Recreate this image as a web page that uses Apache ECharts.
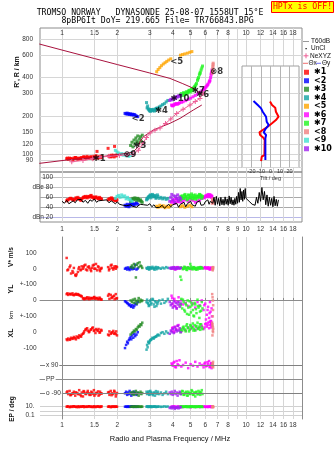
<!DOCTYPE html>
<html><head><meta charset="utf-8">
<script src="https://cdn.jsdelivr.net/npm/echarts@6/dist/echarts.min.js"></script>
<style>html,body{margin:0;padding:0;background:#fff}#c{width:335px;height:451px}</style>
</head><body><div id="c"></div>
<script>
// ---------- axis ticks ----------
const FREQ_TICKS = [1,1.5,2,3,4,5,6,7,8,9,10,12,14,16,18];
const FREQ_LABELS = [1,1.5,2,3,4,5,6,7,8,10,12,14,16,18];
const FREQ_LABELS_DBE = [1,1.5,2,3,4,5,6,7,8,9,10,12,14,16,18];
const HEIGHT_TICKS = [80,90,100,120,150,200,300,400,600,800];
const DBE_TICKS = [20,40,60,80,100];
const DBE_LABELS = ['dBn 20','40','60','dBe 80','100'];
const VXY_TICKS = [-300,-200,-100,0,100,200,300];
const VXY_LABELS = ['-100','0','+-100','0','+-100','0','100'];
const PP_TICKS = [-90,0,90];
const PP_LABELS = ['o -90','PP','x 90'];
const EP_TICKS = [0.1,1,10];
const EP_LABELS = ['0.1','','10.'];
const TILT_TICKS = [-20,-10,0,10,20];

// ---------- profile lines (MHz, km) ----------
const TOPF = [0.753,1.0,1.5,2.0,3.0,3.86,4.5,5.15,5.84];
const TOPH = [731,656,563,505,434,394,360,331,292];
const LOWF = [0.753,1.06,1.48,1.90,2.25,2.44,2.60,2.65,2.77,3.13,3.86,4.38,5.17,5.75];
const LOWH = [85.5,90.8,94.6,99.2,102.3,105.2,115.3,126,138,155.6,175.6,192,223,244];
const NEF = [1.13,1.30,1.47,1.61,1.80,2.05,2.25,2.43,2.60,2.75,2.88,3.01,3.20,3.41,3.65,3.90,4.20,4.55,4.96,5.30,5.62,5.86];
const NEH = [88,90,93,95.8,97,98.5,99.5,100.6,108,123,136,147.6,155,161.4,175,190,210,226,244,260,275,301];

// ---------- noise (dB) ----------
const NF = [1.00,1.03,1.06,1.09,1.12,1.15,1.18,1.21,1.24,1.27,1.30,1.34,1.38,1.42,1.46,1.50,1.54,1.58,1.62,1.66,1.70,1.75,1.80,1.85,1.90,1.95,2.00,
 2.05,2.10,2.15,2.20,2.25,2.30,2.36,2.42,2.48,2.54,2.60,2.66,2.72,2.78,2.85,2.92,3.00,3.08,3.16,3.24,3.32,3.40,3.50,3.60,3.70,3.80,3.90,4.00,
 4.10,4.20,4.30,4.40,4.50,4.60,4.70,4.80,4.90,5.00,5.10,5.20,5.30,5.40,5.50,5.60,5.70,5.80,5.90,6.00,6.10,6.20,6.30,6.40,6.50,
 6.60,6.70,6.80,6.90,7.00,7.10,7.20,7.30,7.40,7.50,7.60,7.70,7.80,7.90,8.00,8.10,8.20,8.30,8.40,8.50,8.60,8.70,8.80,8.90,9.00,9.10,9.20,9.30,9.40,9.50,9.60,9.70,9.80,9.90,10.0,
 10.2,10.4,10.6,10.8,11.0,11.2,11.4,11.6,11.8,12.0,12.2,12.4,12.6,12.8,13.0,13.2,13.4,13.6,13.8,14.0,14.2,14.4,14.6,14.8,15.0];
const NDB = [52,48,54,47,50,53,49,55,51,56,50,54,48,55,52,57,50,53,49,54,51,55,49,53,50,47,51,
 46,50,44,48,43,41,45,42,44,40,43,46,42,45,48,44,47,41,45,39,43,40,44,38,42,46,41,45,
 42,48,40,46,44,50,41,47,43,52,45,49,42,50,46,53,44,48,45,51,47,55,46,52,48,
 48,60,44,62,46,58,43,60,45,56,44,61,46,57,44,63,47,60,45,55,44,58,46,62,48,70,50,78,55,72,52,75,56,78,58,
 62,52,50,46,48,44,60,48,70,52,80,55,72,45,65,42,60,44,58,41,62,43,56,42,55];

// ---------- echo groups ----------
const F1 = [1.06,1.08,1.10,1.12,1.14,1.16,1.18,1.20,1.22,1.24,1.26,1.28,1.30,1.32,1.35,1.38,1.40,1.43,1.46,1.49,1.52,1.55,1.58,1.61,1.64,1.78,1.81,1.84,1.87,1.90,1.93,1.96,1.99,
 1.07,1.11,1.15,1.19,1.23,1.27,1.31,1.34,1.37,1.41,1.44,1.47,1.50,1.53,1.57,1.60,1.63,1.80,1.86,1.92,1.97];
const H1 = [93,92,94,93,92,94,95,93,92,94,93,95,94,96,93,95,94,96,95,97,94,106,96,95,97,112,98,96,97,99,116,98,100,
 94,93,92,95,93,94,96,95,97,94,96,93,95,98,94,96,95,97,99,96,98];
const DB1 = [53,55,57,58,56,54,56,58,60,57,55,57,59,61,60,62,61,63,60,58,60,59,57,58,56,55,57,58,56,55,54,53,55,
 55,58,56,59,57,54,60,62,59,61,64,61,59,61,58,60,57,56,59,57,54];
const VS1 = [68,-5,10,-30,-15,5,-40,-35,-20,10,-10,15,0,20,-5,10,15,-5,5,25,0,-10,10,-15,5,10,0,20,5,-5,15,0,10,
 -10,20,-25,-45,0,-5,10,25,-10,5,-15,20,0,30,15,-5,0,-10,25,5,15];
const YL1 = [40,35,42,38,45,33,38,36,40,34,30,25,12,8,15,10,18,12,14,20,10,16,8,12,6,30,10,35,20,25,8,40,15,
 45,40,36,42,35,28,15,10,20,8,16,12,22,14,10,18,6,40,15,30,12];
const XL1 = [-45,-40,-48,-35,-42,-30,-38,-27,-32,-20,-25,-15,-10,5,20,10,0,15,25,8,-5,12,20,0,10,-15,5,-10,0,8,-5,-12,-20,
 -50,-44,-38,-45,-36,-28,-5,15,25,5,18,30,12,20,8,-3,15,-20,-5,-10,5];
const PP1 = [-85,-95,-75,-100,-90,-80,-105,-88,-92,-70,-98,-85,-110,-80,-95,-75,-90,-100,-85,-70,-95,-88,-105,-80,-92,-85,-100,-75,-90,-95,-80,-110,-88,
 -78,-102,-92,-84,-96,-108,-76,-92,-86,-100,-80,-94,-105,-88,-78,-98,-90,-82,-102,-74,-96];
const EP1 = [10,12,8,11,9,13,10,8,12,11,9,10,12,8,10,11,13,9,10,12,8,11,10,9,12,10,11,8,12,10,9,11,10,
 11,9,12,10,8,11,13,10,9,12,10,8,11,10,12,9,10,11,9,12,10];

const F2 = [2.20,2.23,2.26,2.28,2.31,2.33,2.36,2.38,2.41,2.44,2.47,2.50,2.54,2.58];
const H2 = [210,208,211,207,209,206,208,205,207,204,206,203,200,198];
const DB2 = [44,42,46,43,41,45,47,44,48,46,45,47,49,46];
const VS2 = [0,5,-5,8,0,-8,3,10,-3,5,0,25,-5,2];
const YL2 = [-5,-10,-15,-20,-30,-25,-35,-40,-30,-45,-35,-20,-25,-10];
const XL2 = [-100,-80,-60,-70,-50,-40,-30,-45,-20,-35,-10,-25,-15,0];
const PP2 = [-90,-80,-100,-85,-95,-75,-90,-105,-85,-95,-80,-90,-100,-88];
const EP2 = [10,11,9,12,10,9,11,10,12,10,9,11,10,9];

const F3 = [2.36,2.40,2.43,2.46,2.49,2.52,2.55,2.58,2.61,2.64,2.67,2.70,2.73];
const H3 = [118,125,115,130,122,135,128,140,124,132,138,127,142];
const DB3 = [52,56,58,55,59,57,54,58,56,53,55,52,50];
const VS3 = [10,20,5,30,15,-55,25,35,10,40,20,15,5];
const YL3 = [0,-10,5,-15,10,-5,-20,0,15,-10,5,-5,0];
const XL3 = [-15,-5,0,10,5,20,15,30,40,35,50,45,60];
const PP3 = [-85,-95,-80,-100,-90,-75,-95,-85,-105,-90,-80,-95,-88];
const EP3 = [10,11,9,12,10,9,11,10,12,10,9,11,10];

const F4 = [2.88,2.90,2.94,2.98,3.02,3.06,3.10,3.15,3.20,3.26,3.32,3.38,3.45,3.52,3.60,3.68,3.76,
 2.92,2.96,3.00,3.04,3.12,3.18,3.24,3.30];
const H4 = [255,232,228,222,218,225,220,226,223,230,228,236,240,246,250,258,265,
 240,226,220,224,222,219,228,231];
const DB4 = [55,58,60,62,65,63,66,61,64,60,62,58,60,57,59,56,58,
 57,61,63,59,64,62,58,65];
const VS4 = [5,0,10,-5,8,3,12,0,6,-3,9,4,0,7,2,10,5,
 3,-2,7,1,5,-6,11,2];
const YL4 = [-10,5,-20,-30,0,-15,10,-25,-5,-35,-10,0,-20,5,-15,-5,10,
 -15,-35,-5,-25,5,-40,-12,-22];
const XL4 = [-110,-80,-60,-65,-50,-45,-35,-40,-30,-25,-15,-20,-5,0,-10,5,-5,
 -95,-70,-55,-48,-38,-32,-28,-20];
const PP4 = [-80,-95,-85,-100,-75,-90,-95,-85,-105,-90,-80,-95,-85,-100,-90,-80,-95,
 -90,-78,-96,-84,-102,-88,-76,-94];
const EP4 = [10,12,9,11,10,8,11,10,12,9,10,11,9,10,12,10,11,
 11,9,10,12,10,11,9,10];

const F5 = [3.27,3.33,3.40,3.47,3.55,3.63,3.71,3.80,3.90,4.40,4.52,4.65,4.80,4.95,5.08];
const H5 = [444,462,478,495,510,522,535,548,560,598,605,612,620,630,638];
const DB5 = [42,40,44,41,43,39,42,40,44,41,43,40,42,44,41];

const F6 = [3.94,4.00,4.08,4.16,4.25,4.35,4.45,4.55,4.70,4.85,5.00,5.15,5.30,5.45,5.60,5.75,5.88,6.00,6.12,6.22,6.30,6.37,6.42,6.46,6.50,6.53,
 3.97,4.04,4.12,4.20,4.30,5.94,6.06,6.18,6.34,6.48];
const H6 = [244,240,246,250,248,254,256,259,264,270,276,283,290,298,306,315,322,332,344,356,368,381,400,420,440,458,
 242,243,248,249,251,327,338,350,374,430];
const DB6 = [50,54,48,56,52,55,50,53,55,52,56,54,50,53,55,58,60,62,64,66,63,65,61,64,60,62,
 52,55,49,57,51,59,63,61,65,62];
const VS6 = [5,0,8,-3,10,2,6,0,4,8,-2,5,3,0,6,8,2,10,5,0,8,-5,3,6,0,4,
 2,6,-4,9,3,7,1,9,-3,5];
const YL6 = [30,-20,10,-40,-10,-30,0,-25,-15,-35,-5,-20,-45,-10,-30,0,-60,-20,-90,-40,-110,-10,-70,-130,-50,-100,
 15,-35,-5,-50,20,-30,-120,-60,-80,-140];
const XL6 = [10,30,0,20,40,15,5,25,10,30,20,35,15,25,30,40,20,50,35,60,25,45,70,30,55,40,
 25,5,35,15,45,30,55,45,65,50];
const PP6 = [100,85,110,75,95,120,80,90,105,70,95,85,110,80,100,90,75,105,85,95,115,80,90,100,70,95,
 92,105,78,115,88,98,82,108,76,102];
const EP6 = [10,8,12,6,10,9,11,8,10,12,7,10,9,11,8,10,12,9,10,8,11,10,9,12,10,11,
 9,11,10,8,12,10,9,11,10,8];

const F7 = [4.40,4.45,4.50,4.58,4.66,4.74,4.82,4.90,4.98,5.06,5.14,5.22,5.30,5.38,5.45,5.52,5.58,5.64,5.70,5.75,5.80,
 4.42,4.54,4.62,4.70,4.78,4.86,4.94,5.02,5.10,5.18,5.26,5.34,5.48,5.62];
const H7 = [288,300,292,305,296,310,302,318,308,325,315,335,345,360,380,400,420,440,458,475,492,
 295,290,300,298,306,312,315,320,328,330,340,352,390,430];
const DB7 = [55,60,63,58,66,62,57,64,60,67,61,58,65,62,59,63,66,60,64,58,62,
 62,58,64,60,55,65,59,63,57,64,60,56,62,65];
const VS7 = [-50,-70,5,0,10,-5,8,2,30,5,-3,10,0,6,-5,8,3,0,10,5,2,
 8,-3,12,4,-8,6,0,15,-2,9,3,-6,5,10];
const YL7 = [-20,10,-50,-10,-70,-30,0,-90,-40,-15,-60,-100,-25,-80,5,-45,-110,-35,-65,-10,-50,
 -30,5,-60,-20,-85,-45,-5,-75,-30,-95,-15,-55,-35,-70];
const XL7 = [0,20,10,35,15,40,25,5,45,30,55,20,10,40,60,25,35,15,50,30,20,
 10,30,20,5,50,30,15,40,25,10,45,35,20,50];
const PP7 = [-85,-95,-75,-100,-90,-80,-105,-88,-92,-70,-98,-85,-110,-80,-95,-75,-90,-100,-85,-70,-95,
 -92,-78,-98,-86,-104,-80,-95,-88,-76,-100,-90,-84,-96,-82];
const EP7 = [10,12,8,11,9,13,10,8,12,11,9,10,12,8,10,11,13,9,10,12,8,
 9,11,10,12,8,10,11,9,12,10,8,11,10,9];

const F8 = [6.55,6.57,6.58,6.60,6.61,6.62,6.63];
const H8 = [432,445,460,475,490,505,518];
const DB8 = [48,52,55,50,57,53,49];
const VS8 = [-5,0,5,-10,8,0,10];
const YL8 = [40,-150,20,-100,0,-60,-30];
const XL8 = [60,-20,40,10,30,0,20];
const PP8 = [90,80,100,85,95,110,75];
const EP8 = [10,8,12,9,11,10,8];

const F9 = [1.95,1.99,2.03,2.07,2.11,2.15,2.19,2.23,2.27,2.31,2.35,2.40];
const H9 = [108,105,103,100,102,99,101,98,100,97,99,104];
const DB9 = [58,62,64,60,65,61,63,57,60,56,55,52];

const F10 = [3.85,3.90,3.95,4.00,4.05,4.10,4.15,4.20,4.25,4.30,4.36,4.42];
const H10 = [265,270,268,275,272,280,276,284,282,288,286,292];
const DB10 = [52,60,66,55,63,50,62,58,65,54,60,57];
const VS10 = [5,0,8,3,10,-2,6,0,4,8,2,5];
const YL10 = [-10,-30,-20,-45,-5,-35,-15,-50,-25,-10,-40,-20];
const XL10 = [-10,10,0,20,-5,30,15,5,40,10,25,0];
const PP10 = [-85,-95,-80,-100,-90,-75,-95,-85,-105,-90,-80,-95];
const EP10 = [5,8,4,10,6,3,7,5,9,4,6,8];

// trace markers
const MK_NAME = ['✱1','⊗9','✱3','<2','✱4','<5','✱10','✱7','✱6','⊗8'];
const MK_F = [1.59,2.34,2.65,2.59,3.47,4.20,4.38,5.51,5.82,6.93];
const MK_H = [93.5,99.2,117.7,191,219,532,271,318,292,444];

// tilt traces
const TILTX = [-0.5,1.6,5.0,5.7,8.5,5.7,1.6,-3.0,-8.2,-11.6,-10.9,-7.5,-6.1,-6.4,-9.2,-9.9];
const TILTX_H = [259.6,243.9,232.4,216.3,197.7,186.3,175.6,165.2,155.6,149.3,142.3,135.5,130.1,99.2,96.3,88.9];
const TILTY = [-17.9,-13.4,-9.9,-8.2,-4.7,-4.0,-1.9,-5.4,-7.1,-4.7,-5.4,-5.4];
const TILTY_H = [262.4,243.9,229.8,216.3,197.7,180.7,170.3,158.5,149.3,142.3,134.1,90.8];

// ---------- build ----------
const lg = Math.log10;
const XMIN = -0.1196, XMAX = 1.3043;
const CRIMSON = '#a8123e', PINK = '#ee5f96', GRIDC = '#d6d6d6', BORDER = '#8c8c8c';
const FONT = 'Liberation Sans';
const k = v => Number(v).toFixed(4);
const fmap = {}; FREQ_TICKS.forEach(f => fmap[k(lg(f))] = String(f));
const hmap = {}; HEIGHT_TICKS.forEach(h => hmap[k(lg(h))] = String(h));
const mapFmt = (ticks, labels) => { const m = {}; ticks.forEach((t,i)=> m[k(t)] = labels[i]); return v => m[k(v)] ?? ''; };
const LBL = {fontSize:6.5, color:'#333', fontFamily:FONT};

const groups = [
  {n:'✱1', c:'#ff0000', F:F1,H:H1,DB:DB1,VS:VS1,YL:YL1,XL:XL1,PP:PP1,EP:EP1},
  {n:'<2', c:'#0000ff', F:F2,H:H2,DB:DB2,VS:VS2,YL:YL2,XL:XL2,PP:PP2,EP:EP2},
  {n:'✱3', c:'#228b22', F:F3,H:H3,DB:DB3,VS:VS3,YL:YL3,XL:XL3,PP:PP3,EP:EP3},
  {n:'✱4', c:'#14a4a4', F:F4,H:H4,DB:DB4,VS:VS4,YL:YL4,XL:XL4,PP:PP4,EP:EP4},
  {n:'<5', c:'#ffa500', F:F5,H:H5,DB:DB5},
  {n:'✱6', c:'#ff00ff', F:F6,H:H6,DB:DB6,VS:VS6,YL:YL6,XL:XL6,PP:PP6,EP:EP6},
  {n:'✱7', c:'#22f522', F:F7,H:H7,DB:DB7,VS:VS7,YL:YL7,XL:XL7,PP:PP7,EP:EP7},
  {n:'<8', c:'#f08080', F:F8,H:H8,DB:DB8,VS:VS8,YL:YL8,XL:XL8,PP:PP8,EP:EP8},
  {n:'<9', c:'#40e0d0', F:F9,H:H9,DB:DB9},
  {n:'✱10', c:'#a020f0', F:F10,H:H10,DB:DB10,VS:VS10,YL:YL10,XL:XL10,PP:PP10,EP:EP10}
];
const pts = (A, B, tf) => A.map((f,i) => B[i] === undefined ? null : [lg(f), tf(B[i])]).filter(Boolean);
const id = v => v;

function freqAxis(gi, extra) {
  return Object.assign({
    type:'value', gridIndex:gi, min:XMIN, max:XMAX,
    axisLine:{show:false},
    axisTick:{show:false, customValues: FREQ_TICKS.map(lg)},
    splitLine:{show:true, lineStyle:{color:GRIDC, width:1}},
    axisLabel:{show:false}
  }, extra);
}

const xAxis = [
  freqAxis(0, {position:'top', axisLabel:Object.assign({show:true, inside:true, margin:2, customValues:FREQ_LABELS.map(lg), formatter:v=>fmap[k(v)]||''}, LBL)}),
  freqAxis(1, {position:'bottom', axisLabel:Object.assign({show:true, margin:3.5, customValues:FREQ_LABELS_DBE.map(lg), formatter:v=>fmap[k(v)]||''}, LBL)}),
  freqAxis(2, {position:'top', axisLine:{show:true, lineStyle:{color:BORDER}}, axisTick:{show:true, length:2.5, customValues:FREQ_TICKS.map(lg), lineStyle:{color:BORDER}}}),
  freqAxis(3, {position:'bottom', axisLine:{show:true, lineStyle:{color:BORDER}}, axisLabel:Object.assign({show:true, margin:2.5, customValues:FREQ_LABELS.map(lg), formatter:v=>fmap[k(v)]||''}, LBL)}),
  {type:'value', gridIndex:4, min:-30, max:30, z:6, position:'bottom',
   axisLine:{show:false}, axisTick:{show:false, customValues:TILT_TICKS},
   splitLine:{show:true, lineStyle:{color:'#b4b4b4'}},
   axisLabel:{show:true, customValues:TILT_TICKS, margin:1, fontSize:5.5, color:'#333', fontFamily:FONT},
   name:'Tilt / deg', nameLocation:'middle', nameGap:7.5, nameTextStyle:{fontSize:5.5, color:'#333', fontFamily:FONT}}
];

const yAxis = [
  {type:'value', gridIndex:0, min:lg(73.2), max:lg(975),
   axisLine:{show:false}, axisTick:{show:false, customValues:HEIGHT_TICKS.map(lg)},
   splitLine:{show:true, lineStyle:{color:GRIDC}},
   axisLabel:Object.assign({customValues:HEIGHT_TICKS.map(lg), margin:7, formatter:v=>hmap[k(v)]||''}, LBL)},
  {type:'value', gridIndex:1, min:10, max:111.5,
   axisLine:{show:false}, axisTick:{show:false, customValues:DBE_TICKS},
   splitLine:{show:true, lineStyle:{color:['#b8b8e8','#a8a8a8','#a8a8a8','#c4c4c4','#c4c4c4']}},
   axisLabel:Object.assign({customValues:DBE_TICKS, inside:true, margin:13, align:'right', formatter:mapFmt(DBE_TICKS, DBE_LABELS)}, LBL)},
  {type:'value', gridIndex:2, min:-350, max:400, position:'left',
   axisLine:{show:true, lineStyle:{color:BORDER}}, axisTick:{show:false, customValues:VXY_TICKS},
   splitLine:{show:false},
   axisLabel:Object.assign({customValues:VXY_TICKS, margin:3.5, formatter:mapFmt(VXY_TICKS, VXY_LABELS)}, LBL)},
  {type:'value', gridIndex:2, min:-350, max:400, position:'right',
   axisLine:{show:true, lineStyle:{color:BORDER}}, axisTick:{show:false}, splitLine:{show:false}, axisLabel:{show:false}},
  {type:'value', gridIndex:3, min:-253.5, max:147.2, position:'left', z:3,
   axisLine:{show:true, lineStyle:{color:BORDER}}, axisTick:{show:false, customValues:PP_TICKS},
   splitLine:{show:true, lineStyle:{color:['#808080','rgba(0,0,0,0)','#808080']}},
   axisLabel:Object.assign({customValues:PP_TICKS, inside:true, margin:5, backgroundColor:'#fff', padding:[0,1,0,1], formatter:mapFmt(PP_TICKS, PP_LABELS)}, LBL)},
  {type:'value', gridIndex:3, min:-1.964, max:13.22, position:'left',
   axisLine:{show:false}, axisTick:{show:false, customValues:EP_TICKS.map(lg)},
   splitLine:{show:true, lineStyle:{color:'#d0d0d0'}},
   axisLabel:Object.assign({customValues:[lg(0.1), lg(10)], margin:5.5, formatter:mapFmt(EP_TICKS.map(lg), EP_LABELS)}, LBL)},
  {type:'value', gridIndex:3, min:-253.5, max:147.2, position:'right',
   axisLine:{show:true, lineStyle:{color:BORDER}}, axisTick:{show:false}, splitLine:{show:false}, axisLabel:{show:false}},
  {type:'value', gridIndex:4, min:lg(79.3), max:lg(492.6), z:6,
   axisLine:{show:false}, axisTick:{show:false, customValues:HEIGHT_TICKS.map(lg)},
   splitLine:{show:true, lineStyle:{color:GRIDC}}, axisLabel:{show:false}}
];

const series = [];
series.push({type:'line', xAxisIndex:0, yAxisIndex:0, data:TOPF.map((f,i)=>[lg(f), lg(TOPH[i])]), symbol:'none', lineStyle:{color:CRIMSON, width:1}, silent:true});
series.push({type:'line', xAxisIndex:0, yAxisIndex:0, data:LOWF.map((f,i)=>[lg(f), lg(LOWH[i])]), symbol:'none', lineStyle:{color:CRIMSON, width:1}, silent:true});
series.push({type:'line', xAxisIndex:0, yAxisIndex:0, data:NEF.map((f,i)=>[lg(f), lg(NEH[i])]),
  symbol:'path://M4,0h2v4h4v2h-4v4h-2v-4h-4v-2h4z', symbolSize:5, itemStyle:{color:PINK}, lineStyle:{color:PINK, width:1}, silent:true});
series.push({type:'line', xAxisIndex:1, yAxisIndex:1, data:NF.map((f,i)=>[lg(f), NDB[i]]), symbol:'none', lineStyle:{color:'#000', width:1}, silent:true});

groups.forEach(g => {
  series.push({name:g.n, type:'scatter', xAxisIndex:0, yAxisIndex:0, symbol:'rect', symbolSize:3, itemStyle:{color:g.c}, data:pts(g.F, g.H, lg), silent:true});
  series.push({name:g.n, type:'scatter', xAxisIndex:1, yAxisIndex:1, symbol:'rect', symbolSize:3, itemStyle:{color:g.c}, data:pts(g.F, g.DB, id), silent:true});
  if (g.VS) {
    const d = pts(g.F, g.VS, v=>v+200).concat(pts(g.F, g.YL, id), pts(g.F, g.XL, v=>v-200));
    series.push({name:g.n, type:'scatter', xAxisIndex:2, yAxisIndex:2, symbol:'rect', symbolSize:2.5, itemStyle:{color:g.c}, data:d, silent:true});
    series.push({name:g.n, type:'scatter', xAxisIndex:3, yAxisIndex:4, symbol:'rect', symbolSize:2.5, itemStyle:{color:g.c}, data:pts(g.F, g.PP, id), silent:true});
    series.push({name:g.n, type:'scatter', xAxisIndex:3, yAxisIndex:5, symbol:'rect', symbolSize:2.5, itemStyle:{color:g.c}, data:pts(g.F, g.EP, lg), silent:true});
  }
});

series.push({type:'scatter', xAxisIndex:0, yAxisIndex:0, symbol:'circle', symbolSize:1, itemStyle:{color:'rgba(0,0,0,0)'}, z:4, silent:true,
  data:MK_F.map((f,i)=>({value:[lg(f), lg(MK_H[i])], label:{formatter:MK_NAME[i]}})),
  label:{show:true, position:'inside', color:'#000', fontSize:8.5, fontWeight:'bold', fontFamily:'DejaVu Sans'}});

series.push({type:'line', xAxisIndex:4, yAxisIndex:7, z:7, data:TILTX.map((t,i)=>[t, lg(TILTX_H[i])]), symbol:'none', lineStyle:{color:'#ff0000', width:2}, silent:true});
series.push({type:'line', xAxisIndex:4, yAxisIndex:7, z:7, data:TILTY.map((t,i)=>[t, lg(TILTY_H[i])]), symbol:'none', lineStyle:{color:'#0000ff', width:2}, silent:true});

const T = (text, x, y, o) => Object.assign({type:'text', x, y, silent:true, style:Object.assign({text, fill:'#111', font:'6.5px "Liberation Sans"', align:'left', verticalAlign:'middle'}, o||{})});
const graphic = [
  T('TROMSO NORWAY   DYNASONDE 25-08-07 1558UT 15°E', 150, 12.5, {font:'8.2px "DejaVu Sans Mono"', align:'center', fill:'#000'}),
  T('8pBP6It DoY= 219.665 File= TR766843.BPG', 157.5, 20.8, {font:'8.2px "DejaVu Sans Mono"', align:'center', fill:'#000'}),
  {type:'rect', shape:{x:271.5, y:1.5, width:62, height:11}, style:{fill:'#ffff00', stroke:'#ff0000', lineWidth:1}, silent:true},
  T('HPTx is OFF!', 302.5, 7.3, {font:'8.2px "DejaVu Sans Mono"', align:'center', fill:'#ff0000'}),
  Object.assign(T("R', R / km", 17, 72, {font:'bold 7px "Liberation Sans"', align:'center'}), {rotation:Math.PI/2}),
  Object.assign(T('V* m/s', 11, 257, {font:'bold 6.5px "Liberation Sans"', align:'center'}), {rotation:Math.PI/2}),
  Object.assign(T('YL', 11, 289, {font:'bold 7px "Liberation Sans"', align:'center'}), {rotation:Math.PI/2}),
  Object.assign(T('km', 11, 315, {font:'6px "Liberation Sans"', align:'center'}), {rotation:Math.PI/2}),
  Object.assign(T('XL', 11, 333, {font:'bold 7px "Liberation Sans"', align:'center'}), {rotation:Math.PI/2}),
  Object.assign(T('EP / deg', 12, 409, {font:'bold 6.5px "Liberation Sans"', align:'center'}), {rotation:Math.PI/2}),
  T('Radio and Plasma Frequency / MHz', 170, 439, {font:'7.5px "Liberation Sans"', align:'center'}),
  {type:'line', shape:{x1:303, y1:41.5, x2:309, y2:41.5}, style:{stroke:'#999', lineWidth:1}, silent:true},
  T('T60dB', 311, 41.5),
  {type:'rect', shape:{x:305.5, y:48, width:1.2, height:1.2}, style:{fill:'#000'}, silent:true},
  T('UnCl', 311, 48.7),
  {type:'line', shape:{x1:303.5, y1:55.8, x2:308.5, y2:55.8}, style:{stroke:PINK, lineWidth:1}, silent:true},
  {type:'line', shape:{x1:306, y1:53.3, x2:306, y2:58.3}, style:{stroke:PINK, lineWidth:1}, silent:true},
  T('NeXYZ', 310, 55.8),
  {type:'line', shape:{x1:303, y1:63.3, x2:308, y2:63.3}, style:{stroke:'#f07070', lineWidth:1}, silent:true},
  T('Θx', 308.5, 63.3),
  {type:'line', shape:{x1:316, y1:63.3, x2:321, y2:63.3}, style:{stroke:'#7070f0', lineWidth:1}, silent:true},
  T('Θy', 322, 63.3)
];

const chart = echarts.init(document.getElementById('c'), null, {renderer:'canvas'});
chart.setOption({
  animation:false,
  backgroundColor:'#fff',
  textStyle:{fontFamily:FONT},
  grid:[
    {left:40, top:28, width:262, height:144, show:true, borderColor:BORDER, borderWidth:1, backgroundColor:'rgba(0,0,0,0)', containLabel:false, outerBoundsMode:'none'},
    {left:40, top:172, width:262, height:50, show:true, borderColor:BORDER, borderWidth:1, backgroundColor:'rgba(0,0,0,0)', containLabel:false, outerBoundsMode:'none'},
    {left:40, top:237, width:262, height:119, containLabel:false, outerBoundsMode:'none'},
    {left:40, top:356, width:262, height:63, containLabel:false, outerBoundsMode:'none'},
    {left:242, top:66, width:57, height:101.5, show:true, borderColor:'#a0a0a0', borderWidth:1, backgroundColor:'#fff', z:5, containLabel:false, outerBoundsMode:'none'}
  ],
  xAxis, yAxis, series, graphic,
  legend:{orient:'vertical', left:304, top:68, itemWidth:5, itemHeight:5, itemGap:0, padding:0, icon:'rect', selectedMode:false,
    textStyle:{fontSize:8, fontWeight:'bold', color:'#000', lineHeight:8.5, fontFamily:'DejaVu Sans'},
    data:groups.map(g=>g.n)}
});
</script></body></html>
